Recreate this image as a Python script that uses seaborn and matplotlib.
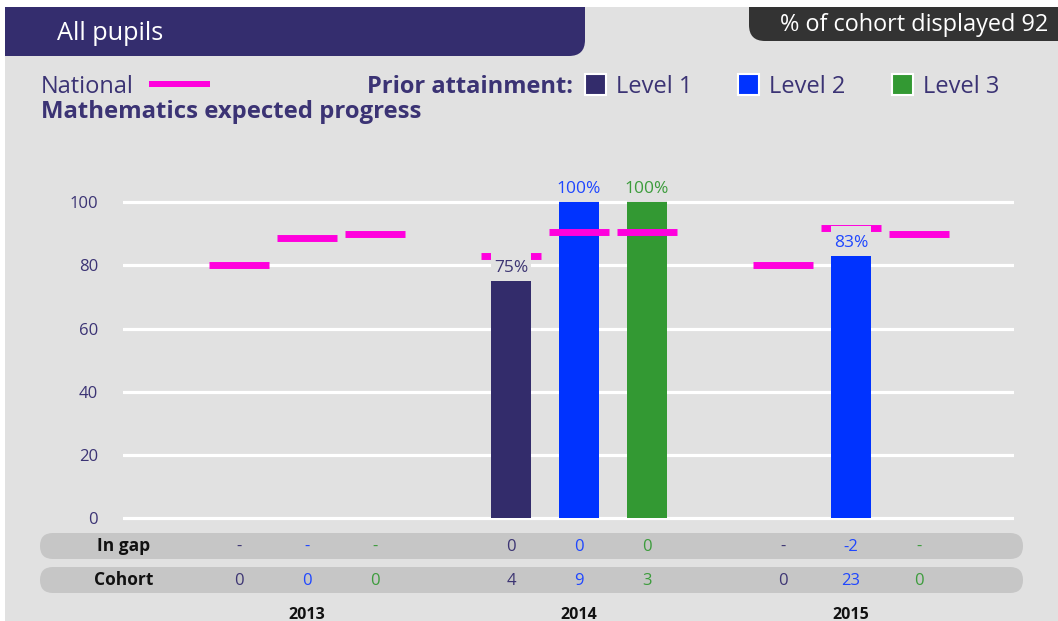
import numpy as np
import pandas as pd
import matplotlib
matplotlib.use("Agg")
import matplotlib.pyplot as plt
import seaborn as sns
from matplotlib.patches import FancyBboxPatch, Rectangle
from matplotlib.transforms import blended_transform_factory

# ---------------- data ----------------
years = ["2013", "2014", "2015"]
levels = ["Level 1", "Level 2", "Level 3"]
level1_pct = [np.nan, 75, np.nan]
level2_pct = [np.nan, 100, 83]
level3_pct = [np.nan, 100, np.nan]
national_l1 = [80, 83, 80]
national_l2 = [88.6, 90.5, 91.8]
national_l3 = [90, 90.5, 90]
in_gap_l1 = ["-", "0", "-"]
in_gap_l2 = ["-", "0", "-2"]
in_gap_l3 = ["-", "0", "-"]
cohort_l1 = [0, 4, 0]
cohort_l2 = [0, 9, 23]
cohort_l3 = [0, 3, 0]
yticks = [0, 20, 40, 60, 80, 100]
cohort_displayed = 92

# ---------------- style ----------------
bar_colors = ["#332c6b", "#0033ff", "#339933"]
text_colors = ["#3d3573", "#1f47ff", "#3c9c3c"]
national_color = "#ff00dd"
bg_color = "#e1e1e1"
pill_color = "#c6c6c6"
axis_text = "#3b3374"

sns.set_theme(style="white")
plt.rcParams["font.family"] = ["Open Sans", "DejaVu Sans"]

W, H = 1058, 621
fig = plt.figure(figsize=(W / 100, H / 100), dpi=100, facecolor="white")

# background / overlay axes in pixel coordinates
bg = fig.add_axes([0, 0, 1, 1], zorder=0)
bg.set_xlim(0, W)
bg.set_ylim(H, 0)
bg.axis("off")
bg.add_patch(Rectangle((5, 7), W - 5, H - 7, fc=bg_color, ec="none", zorder=0))

# header left
hc = "#342d6e"
bg.add_patch(FancyBboxPatch((5, 7), 580, 49, boxstyle="round,pad=0,rounding_size=16",
                            fc=hc, ec="none", zorder=1))
bg.add_patch(Rectangle((5, 7), 560, 49, fc=hc, ec="none", zorder=1))
bg.add_patch(Rectangle((5, 7), 580, 25, fc=hc, ec="none", zorder=1))
bg.text(57, 40, "All pupils", color="white", fontsize=18.2, va="baseline", ha="left", zorder=2)

# header right
rc = "#333333"
bg.add_patch(FancyBboxPatch((749, 7), 340, 34, boxstyle="round,pad=0,rounding_size=16",
                            fc=rc, ec="none", zorder=1))
bg.add_patch(Rectangle((749, 7), 330, 16, fc=rc, ec="none", zorder=1))
bg.text(1048, 31, f"% of cohort displayed {cohort_displayed}", color="white", fontsize=16.9,
        va="baseline", ha="right", zorder=2)

# legend row
bg.text(41, 93, "National", color=axis_text, fontsize=17, va="baseline", ha="left")
bg.add_patch(Rectangle((149, 81), 61, 6, fc=national_color, ec="none"))
bg.text(367, 93, "Prior attainment:", color=axis_text, fontsize=17, fontweight="bold",
        va="baseline", ha="left")
for x0, lab, c in zip([585, 738, 892], levels, bar_colors):
    bg.add_patch(Rectangle((x0, 74), 21, 21, fc=c, ec="white", lw=1.5))
    bg.text(x0 + 31, 93, lab, color=axis_text, fontsize=17, va="baseline", ha="left")
bg.text(41, 118, "Mathematics expected progress", color=axis_text, fontsize=17.2,
        fontweight="bold", va="baseline", ha="left")

# ---------------- main chart ----------------
ppu = (518 - 202.3) / 100.0
y0, y1 = -1, 101
ax = fig.add_axes([123 / W, (H - (518 - y0 * ppu)) / H, (1014 - 123) / W,
                   (y1 - y0) * ppu / H], zorder=2)
ax.patch.set_alpha(0)

df = pd.DataFrame({
    "year": years * 3,
    "level": np.repeat(levels, 3),
    "pct": level1_pct + level2_pct + level3_pct,
})
sns.barplot(data=df, x="year", y="pct", hue="level", order=years, hue_order=levels,
            palette=dict(zip(levels, bar_colors)), width=0.75, gap=0.4, saturation=1,
            errorbar=None, legend=False, ax=ax, zorder=2, linewidth=0)

ax.set_xlim(-184 / 272, 707 / 272)
ax.set_ylim(y0, y1)
ax.set_xticks([])
ax.set_xlabel("")
ax.set_ylabel("")
ax.set_yticks(yticks)
ax.yaxis.grid(True, color="white", lw=2.3)
ax.set_axisbelow(True)
for s in ax.spines.values():
    s.set_visible(False)
ax.tick_params(axis="y", length=0, pad=18, labelsize=12, labelcolor=axis_text)

offsets = [-0.25, 0.0, 0.25]
xpos = np.arange(len(years))
for j, nat in enumerate([national_l1, national_l2, national_l3]):
    xs = xpos + offsets[j]
    ax.hlines(nat, xs - 0.112, xs + 0.112, colors=national_color, lw=5, zorder=3)

box_h = 30 / ppu
for j, vals in enumerate([level1_pct, level2_pct, level3_pct]):
    for i, v in enumerate(vals):
        if np.isnan(v):
            continue
        x = xpos[i] + offsets[j]
        ax.add_patch(Rectangle((x - 0.075, v), 0.15, box_h, fc=bg_color, ec="none",
                               zorder=4, clip_on=False))
        ax.text(x, v + 9 / ppu, f"{v:.0f}%", ha="center", va="baseline",
                color=text_colors[j], fontsize=12.5, zorder=5, clip_on=False)

# ---------------- table ----------------
tr = blended_transform_factory(ax.transData, bg.transData)
for ytop, lab, base in [(533, "In gap", 551), (567, "Cohort", 585)]:
    bg.add_patch(FancyBboxPatch((40, ytop), 983, 26, boxstyle="round,pad=0,rounding_size=13",
                                fc=pill_color, ec="none", zorder=1))
    bg.text(124, base, lab, ha="center", va="baseline", fontsize=12.5, fontweight="bold",
            color="#111111", zorder=2)

for j, (gap, coh) in enumerate(zip([in_gap_l1, in_gap_l2, in_gap_l3],
                                   [cohort_l1, cohort_l2, cohort_l3])):
    for i in range(len(years)):
        x = xpos[i] + offsets[j]
        bg.text(x, 551, gap[i], transform=tr, ha="center", va="baseline", fontsize=12,
                color=text_colors[j], zorder=2)
        bg.text(x, 585, str(coh[i]), transform=tr, ha="center", va="baseline", fontsize=12,
                color=text_colors[j], zorder=2)

for i, yr in enumerate(years):
    bg.text(xpos[i], 619, yr, transform=tr, ha="center", va="baseline", fontsize=11.5,
            fontweight="bold", color="#111111", zorder=2)

fig.savefig("out.png", dpi=100, facecolor="white")
